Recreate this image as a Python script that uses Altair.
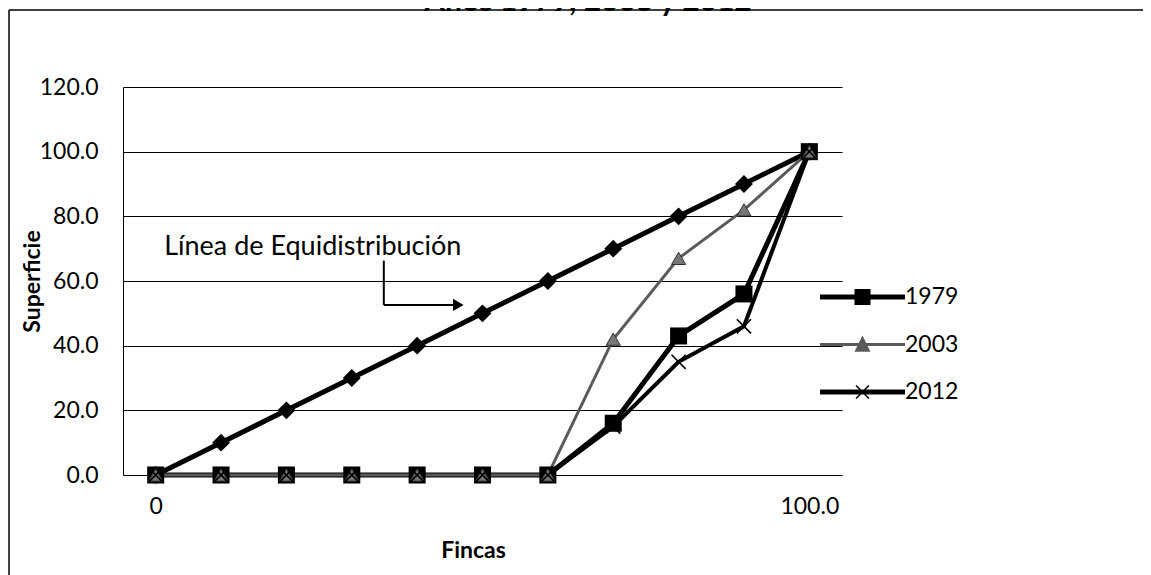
import altair as alt
import pandas as pd

# ---- data ----
fincas = [0, 10, 20, 30, 40, 50, 60, 70, 80, 90, 100]
equidistribucion = [0, 10, 20, 30, 40, 50, 60, 70, 80, 90, 100]
serie_1979 = [0, 0, 0, 0, 0, 0, 0, 16, 43, 56, 100]
serie_2003 = [0, 0, 0, 0, 0, 0, 0, 42, 67, 82, 100]
serie_2012 = [0, 0, 0, 0, 0, 0, 0, 15, 35, 46, 100]
series_names = ["1979", "2003", "2012"]
y_ticks = [0, 20, 40, 60, 80, 100, 120]
x_ticks = [0, 100]
titulo = "Años 1979, 2003 y 2012"
anotacion = "Línea de Equidistribución"
eje_x = "Fincas"
eje_y = "Superficie"

FONT = "Lato"

rows = []
for name, vals in zip(series_names, [serie_1979, serie_2003, serie_2012]):
    for f, v in zip(fincas, vals):
        rows.append({"fincas": f, "superficie": v, "serie": name})
df = pd.DataFrame(rows)
equi_df = pd.DataFrame({"fincas": fincas, "superficie": equidistribucion})

xscale = alt.Scale(domain=[-5, 105], nice=False, zero=False)
yscale = alt.Scale(domain=[0, 120], nice=False)

X = alt.X("fincas:Q", scale=xscale, axis=alt.Axis(
    values=x_ticks, labelExpr="datum.value == 0 ? '0' : '100.0'",
    grid=False, ticks=False, domain=True, domainColor="black", domainWidth=1,
    labelFont=FONT, labelFontSize=23, labelColor="black", labelPadding=20,
    title=eje_x, titleFont=FONT, titleFontSize=23, titleFontWeight="bold",
    titleColor="black", titleX=350, titleY=75, titleBaseline="middle", titleAlign="center"))
Y = alt.Y("superficie:Q", scale=yscale, axis=alt.Axis(
    values=y_ticks, format=".1f", grid=True, gridColor="black", gridWidth=1, gridOpacity=1,
    ticks=False, domain=True, domainColor="black", domainWidth=1,
    labelFont=FONT, labelFontSize=23, labelColor="black", labelPadding=25,
    title=eje_y, titleFont=FONT, titleFontSize=23, titleFontWeight="bold",
    titleColor="black", titleX=-91, titleBaseline="middle", titleAngle=-90))

base = alt.Chart(df)

# Equidistribution line
equi_line = alt.Chart(equi_df).mark_line(color="black", strokeWidth=5).encode(x=X, y=Y)
equi_pts = alt.Chart(equi_df).mark_point(shape="diamond", filled=True, color="black", size=320, opacity=1).encode(
    x=X, y=Y)

def sel(name):
    return base.transform_filter(alt.datum.serie == name)

l1979 = sel("1979").mark_line(color="black", strokeWidth=5).encode(x=X, y=Y)
l2012 = sel("2012").mark_line(color="black", strokeWidth=4).encode(x=X, y=Y)
l2003 = sel("2003").mark_line(color="#5a5a5a", strokeWidth=3).encode(x=X, y=Y)
p1979 = sel("1979").mark_point(shape="square", filled=True, color="black", size=290, opacity=1).encode(x=X, y=Y)
p2003 = sel("2003").mark_point(shape="triangle-up", filled=True, fill="#777777", stroke="#333333",
                              strokeWidth=1, size=200, opacity=1).encode(x=X, y=Y)
p2012 = sel("2012").mark_point(shape="M-1,-1L1,1M-1,1L1,-1", filled=False, color="black",
                              strokeWidth=1.6, size=200, opacity=1).encode(x=X, y=Y)

# legend (line + marker symbols); symbol paths extend beyond the unit box
leg_paths = [
    "M-1.889,-0.111H1.889V0.111H-1.889Z M-0.356,-0.356H0.356V0.356H-0.356Z",
    "M-1.889,-0.067H1.889V0.067H-1.889Z M0,-0.4L0.356,0.32L-0.356,0.32Z",
    "M-1.889,-0.111H1.889V0.111H-1.889Z M-0.311,-0.264L-0.264,-0.311L0.311,0.264L0.264,0.311Z "
    "M-0.311,0.264L0.264,-0.311L0.311,-0.264L-0.264,0.311Z",
]
leg_kwargs = dict(title=None, orient="none", legendX=717, legendY=187.5,
                  symbolSize=2025, symbolStrokeWidth=0, labelFont=FONT,
                  labelFontSize=23, labelColor="black", labelOffset=20,
                  rowPadding=12.5, padding=0, symbolOpacity=1, labelLimit=200)
legend_layer = base.transform_filter("datum.superficie < -1000").mark_point(filled=True, opacity=1).encode(
    x=X, y=Y,
    shape=alt.Shape("serie:N", scale=alt.Scale(domain=series_names, range=leg_paths),
                    legend=alt.Legend(**leg_kwargs)),
    fill=alt.Fill("serie:N", scale=alt.Scale(domain=series_names, range=["black", "#5a5a5a", "black"]),
                  legend=alt.Legend(**leg_kwargs)),
)

# annotation text + arrow
ann_text = alt.Chart(pd.DataFrame({"fincas": [1.3], "superficie": [70.5], "t": [anotacion]})).mark_text(
    align="left", baseline="middle", font=FONT, fontSize=27, color="black").encode(
    x=X, y=Y, text="t:N")
arrow_v = alt.Chart(pd.DataFrame({"fincas": [34.9], "superficie": [66.3], "s2": [52.6]})).mark_rule(
    color="black", strokeWidth=2).encode(x=X, y=Y, y2="s2:Q")
arrow_h = alt.Chart(pd.DataFrame({"fincas": [34.9], "f2": [45.5], "superficie": [52.6]})).mark_rule(
    color="black", strokeWidth=2).encode(x=X, x2="f2:Q", y=Y)
arrow_head = alt.Chart(pd.DataFrame({"fincas": [46.3], "superficie": [52.6]})).mark_point(
    shape="triangle-right", filled=True, color="black", size=150, opacity=1).encode(x=X, y=Y)

# outer frame and (cut) title
frame_top = alt.Chart(pd.DataFrame({"a": [0]})).mark_rule(color="black", strokeWidth=1.5).encode(
    x=alt.value(-114), x2=alt.value(1100), y=alt.value(-77))
frame_left = alt.Chart(pd.DataFrame({"a": [0]})).mark_rule(color="black", strokeWidth=1.5).encode(
    x=alt.value(-114), y=alt.value(-77), y2=alt.value(500))
title_txt = alt.Chart(pd.DataFrame({"t": [titulo]})).mark_text(
    align="center", baseline="alphabetic", font=FONT, fontSize=30, fontWeight="bold", color="black").encode(
    x=alt.value(465), y=alt.value(-76), text="t:N")

chart = alt.layer(
    frame_top, frame_left, title_txt,
    equi_line, equi_pts,
    l1979, l2012, l2003,
    p1979, p2003, p2012,
    ann_text, arrow_v, arrow_h, arrow_head,
    legend_layer,
).properties(
    width=719, height=388,
    autosize=alt.AutoSizeParams(type="none"),
    padding={"left": 115, "top": 79, "right": 301, "bottom": 100},
    background="white",
).configure_view(stroke=None)

chart.save("out.html", embed_options={"renderer": "svg", "actions": False})
